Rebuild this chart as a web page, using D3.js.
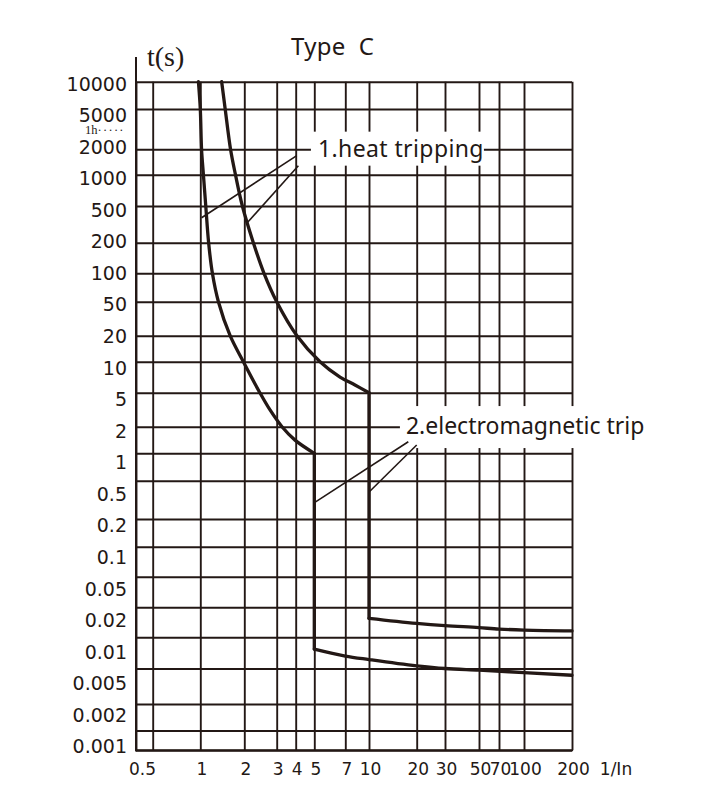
<!DOCTYPE html>
<html>
<head>
<meta charset="utf-8">
<script src="https://cdn.jsdelivr.net/npm/d3@7"></script>
<style>
  body { margin: 0; background: #fff; }
  svg { display: block; }
</style>
</head>
<body>
<svg id="chart" width="716" height="800"></svg>
<script>
// ---- data ----
// current multiples (1/In) that get a vertical grid line
const xGridValues = [0.5, 0.6, 1, 2, 3, 4, 5, 7, 10, 20, 30, 50, 70, 100, 200];
// current multiples that carry a label
const xTickValues = [0.5, 1, 2, 3, 4, 5, 7, 10, 20, 30, 50, 70, 100, 200];
// trip times (s) that get a horizontal grid line
const yGridValues = [10000, 5000, 2000, 1000, 500, 200, 100, 50, 20, 10, 5, 2, 1,
  0.5, 0.2, 0.1, 0.05, 0.02, 0.01, 0.005, 0.002, 0.0015, 0.001];
// time labels down the left side
const yTickLabels = ["10000", "5000", "2000", "1000", "500", "200", "100", "50", "20",
  "10", "5", "2", "1", "0.5", "0.2", "0.1", "0.05", "0.02", "0.01", "0.005", "0.002", "0.001"];

// lower limit curve: thermal part, then magnetic tail
const heatLow = [[0.98, 10000], [1.0, 5000], [1.02, 2000], [1.05, 1000], [1.09, 500],
  [1.14, 200], [1.21, 100], [1.33, 50], [1.6, 20], [1.97, 10], [2.43, 5], [2.76, 3.14],
  [3.25, 2], [3.96, 1.41], [5, 1]];
const magLow = [[5, 0.0077], [7, 0.0066], [10, 0.0061], [20, 0.0053], [30, 0.005],
  [50, 0.0048], [100, 0.0045], [200, 0.0042]];

// upper limit curve
const heatHigh = [[1.4, 10000], [1.48, 5000], [1.61, 2000], [1.74, 1000], [1.94, 500],
  [2.24, 200], [2.56, 100], [3.0, 50], [4.06, 20], [5.32, 10], [6.61, 7.1], [8.1, 5.94],
  [10, 5]];
const magHigh = [[10, 0.0155], [20, 0.0138], [30, 0.0131], [50, 0.0125], [70, 0.0121],
  [100, 0.0118], [200, 0.0116]];

// annotation leader lines [from, to] in (1/In, s)
const heatLeaders = [[[4.05, 1680], [1.02, 373]], [[4.13, 1279], [2.08, 331]]];
const magLeaders = [[[17.7, 1.35], [5.05, 0.3]], [[20, 1.24], [10.05, 0.384]]];

// ---- layout ----
const INK = "#231815";
// the printed grid is hand spaced, so the log axes are calibrated piecewise
const xGridPos = [136, 152.7, 200.3, 244.3, 276.7, 295.7, 314.3, 345.3, 369, 416.7,
  445, 479, 499, 524, 572];
const yGridPos = [81.7, 109, 149.3, 174.7, 206, 242.7, 273.3, 301.7, 335.7, 361.7,
  392.7, 426.7, 453.3, 480.7, 519, 546.7, 576.7, 607.3, 637.3, 668.5, 704, 730.5, 750.3];

const svg = d3.select("#chart");

const x = d3.scaleLog().domain(xGridValues).range(xGridPos);
const y = d3.scaleLog().domain(yGridValues).range(yGridPos);
// labels on the left are evenly stacked, independent of the grid
const yLabel = d3.scalePoint().domain(yTickLabels).range([84, 746.7]);

const plotLeft = x(0.5), plotRight = x(200);
const plotTop = y(10000), plotBottom = y(0.001);

// ---- grid ----
const gridV = svg.append("g")
  .attr("transform", `translate(0, ${plotBottom})`)
  .call(d3.axisBottom(x).tickValues(xGridValues).tickSize(-(plotBottom - plotTop)).tickFormat(""));
const gridH = svg.append("g")
  .attr("transform", `translate(${plotLeft}, 0)`)
  .call(d3.axisLeft(y).tickValues(yGridValues).tickSize(-(plotRight - plotLeft)).tickFormat(""));
[gridV, gridH].forEach((g) => {
  g.select(".domain").remove();
  g.selectAll(".tick line").attr("stroke", INK).attr("stroke-width", 1.9);
});

// y axis runs up past the grid to the unit label
svg.append("line")
  .attr("x1", plotLeft).attr("x2", plotLeft)
  .attr("y1", 57).attr("y2", plotBottom + 1)
  .attr("stroke", INK).attr("stroke-width", 2);
svg.append("line")
  .attr("x1", plotLeft - 1).attr("x2", plotRight + 1)
  .attr("y1", plotBottom).attr("y2", plotBottom)
  .attr("stroke", INK).attr("stroke-width", 2);

// ---- tick labels ----
const yAxis = svg.append("g")
  .attr("transform", "translate(127, 0)")
  .call(d3.axisLeft(yLabel).tickSize(0).tickPadding(0));
yAxis.select(".domain").remove();
yAxis.selectAll("text")
  .attr("fill", INK)
  .attr("font-family", "DejaVu Sans")
  .attr("font-size", 19);

const xAxis = svg.append("g")
  .attr("transform", `translate(0, ${plotBottom})`)
  .call(d3.axisBottom(x).tickValues(xTickValues).tickSize(0).tickPadding(13)
    .tickFormat((d) => String(d)));
xAxis.select(".domain").remove();
xAxis.selectAll("text")
  .attr("fill", INK)
  .attr("font-family", "DejaVu Sans")
  .attr("font-size", 17)
  .attr("dx", (d, i) => (i === 0 ? 6 : 1));

svg.append("text")
  .attr("x", plotRight + 44)
  .attr("y", plotBottom + 13)
  .attr("dy", "0.71em")
  .attr("text-anchor", "middle")
  .attr("fill", INK)
  .attr("font-family", "DejaVu Sans")
  .attr("font-size", 17)
  .text("1/In");

// ---- titles ----
svg.append("text")
  .attr("x", 147).attr("y", 66)
  .attr("fill", INK)
  .attr("font-family", "Liberation Serif")
  .attr("font-size", 28)
  .text("t(s)");

svg.append("text")
  .attr("x", 291).attr("y", 55)
  .attr("fill", INK)
  .attr("font-family", "Noto Sans")
  .attr("font-size", 24)
  .attr("letter-spacing", 0.3)
  .style("white-space", "pre")
  .text("Type  C");

// one hour mark beside the 5000 s label
svg.append("text")
  .attr("x", 85).attr("y", 134)
  .attr("fill", INK)
  .attr("font-family", "Liberation Serif")
  .attr("font-size", 12.5)
  .text("1h")
  .append("tspan")
  .attr("letter-spacing", 1.3)
  .text("·····");

// ---- annotation labels with white backing ----
function note(text, at, pad, spacing) {
  const g = svg.append("g");
  const bg = g.append("rect").attr("fill", "#fff");
  const t = g.append("text")
    .attr("x", x(at[0]))
    .attr("y", y(at[1]))
    .attr("dy", "0.32em")
    .attr("fill", INK)
    .attr("font-family", "Noto Sans")
    .attr("font-size", 23)
    .attr("letter-spacing", spacing)
    .text(text);
  const b = t.node().getBBox();
  bg.attr("x", b.x - pad[3])
    .attr("y", b.y - pad[0])
    .attr("width", b.width + pad[1] + pad[3])
    .attr("height", b.height + pad[0] + pad[2]);
}
note("1.heat tripping", [5.2, 2000], [0, 0, 2, 7], 0.4);
note("2.electromagnetic trip", [17.1, 2], [3, 6, 7, 6], 0);

// ---- leader lines ----
svg.append("g")
  .selectAll("line")
  .data(heatLeaders.concat(magLeaders))
  .join("line")
  .attr("x1", (d) => x(d[0][0]))
  .attr("y1", (d) => y(d[0][1]))
  .attr("x2", (d) => x(d[1][0]))
  .attr("y2", (d) => y(d[1][1]))
  .attr("stroke", INK)
  .attr("stroke-width", 1.6);

// ---- trip curves ----
const smooth = d3.line()
  .x((d) => x(d[0]))
  .y((d) => y(d[1]))
  .curve(d3.curveCatmullRom.alpha(0.5));
const tail = d3.line()
  .x((d) => x(d[0]))
  .y((d) => y(d[1]))
  .curve(d3.curveMonotoneX);
const straight = d3.line()
  .x((d) => x(d[0]))
  .y((d) => y(d[1]));

const curves = svg.append("g")
  .attr("fill", "none")
  .attr("stroke", INK)
  .attr("stroke-width", 3.3)
  .attr("stroke-linecap", "round")
  .attr("stroke-linejoin", "round");

[[heatLow, magLow], [heatHigh, magHigh]].forEach(([heat, mag]) => {
  curves.append("path").attr("d", smooth(heat));
  // instantaneous trip: vertical drop at the magnetic threshold
  curves.append("path").attr("d", straight([heat[heat.length - 1], mag[0]]));
  curves.append("path").attr("d", tail(mag));
});
</script>
</body>
</html>
